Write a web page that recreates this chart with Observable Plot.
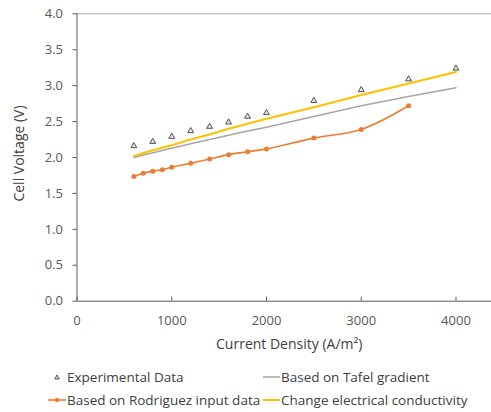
<!DOCTYPE html>
<html>
<head>
<meta charset="utf-8">
<script src="https://cdn.jsdelivr.net/npm/d3@7"></script>
<script src="https://cdn.jsdelivr.net/npm/@observablehq/plot@0.6"></script>
<style>
  html, body { margin: 0; padding: 0; background: #fff; }
  #wrap { position: relative; width: 491px; height: 412px; font-family: "Open Sans", sans-serif; }
  .leg { position: absolute; font-size: 13.5px; color: #404040; white-space: nowrap; line-height: 16px; }
  .leg svg { position: absolute; top: 0; }
</style>
</head>
<body>
<div id="wrap"></div>
<script>
// Experimental data
const expX = [600, 800, 1000, 1200, 1400, 1600, 1800, 2000, 2500, 3000, 3500, 4000];
const expY = [2.16, 2.22, 2.29, 2.37, 2.43, 2.49, 2.57, 2.62, 2.79, 2.94, 3.09, 3.24];
// Based on Tafel gradient
const tafelX = [600, 800, 1000, 1200, 1400, 1600, 1800, 2000, 2500, 3000, 3500, 4000];
const tafelY = [2.00, 2.065, 2.13, 2.19, 2.25, 2.31, 2.37, 2.42, 2.57, 2.72, 2.85, 2.97];
// Change electrical conductivity
const condX = [600, 800, 1000, 1200, 1400, 1600, 1800, 2000, 2500, 3000, 3500, 4000];
const condY = [2.02, 2.10, 2.17, 2.25, 2.32, 2.40, 2.47, 2.54, 2.70, 2.87, 3.03, 3.19];
// Based on Rodriguez input data
const rodX = [600, 700, 800, 900, 1000, 1200, 1400, 1600, 1800, 2000, 2500, 3000, 3500];
const rodY = [1.735, 1.78, 1.81, 1.83, 1.865, 1.92, 1.98, 2.04, 2.08, 2.12, 2.27, 2.39, 2.72];

const xTicks = [0, 1000, 2000, 3000, 4000];
const yTicks = [0, 0.5, 1, 1.5, 2, 2.5, 3, 3.5, 4];
const xTitle = "Current Density (A/m²)";
const yTitle = "Cell Voltage (V)";
const seriesNames = ["Experimental Data", "Based on Tafel gradient", "Based on Rodriguez input data", "Change electrical conductivity"];

const zip = (xs, ys) => xs.map((x, i) => ({x, y: ys[i]}));
const exp = zip(expX, expY), tafel = zip(tafelX, tafelY), cond = zip(condX, condY), rod = zip(rodX, rodY);

const C = {exp: "#404040", tafel: "#A5A5A5", rod: "#ED7D31", cond: "#FFC000"};
const axisColor = "#595959";

const chart = Plot.plot({
  width: 491,
  height: 355,
  marginLeft: 76.5,
  marginRight: 0,
  marginTop: 13.3,
  marginBottom: 54.3,
  style: {fontFamily: "Open Sans", fontSize: "13px", color: axisColor, background: "white"},
  x: {domain: [0, 4375]},
  y: {domain: [0, 4]},
  marks: [
    Plot.ruleY([4], {stroke: "#C8C8C8", strokeWidth: 1.5}),
    Plot.axisY({ticks: yTicks, tickFormat: d3.format(".1f"), tickSize: 4, tickPadding: 10, label: null, stroke: axisColor, fill: axisColor}),
    Plot.axisX({ticks: xTicks, tickFormat: d => String(d), tickSize: 0, tickPadding: 15, label: null, fill: axisColor}),
    Plot.axisX({ticks: xTicks, tickSize: 4, text: null, label: null, dy: -4, stroke: axisColor}),
    Plot.ruleX([0], {stroke: axisColor, strokeWidth: 1}),
    Plot.ruleY([0], {stroke: axisColor, strokeWidth: 1}),
    Plot.line(tafel, {x: "x", y: "y", stroke: C.tafel, strokeWidth: 1.5}),
    Plot.line(cond, {x: "x", y: "y", stroke: C.cond, strokeWidth: 2}),
    Plot.line(rod, {x: "x", y: "y", stroke: C.rod, strokeWidth: 1.6, curve: "catmull-rom"}),
    Plot.dot(rod, {x: "x", y: "y", fill: C.rod, r: 2.5}),
    Plot.dot(exp, {x: "x", y: "y", symbol: "triangle", r: 2.2, stroke: C.exp, fill: "#e6e6e6", strokeWidth: 0.9}),
    Plot.text([xTitle], {frameAnchor: "bottom", textAnchor: "middle", lineAnchor: "middle", dx: 5, dy: 43, fill: "#404040", fontSize: 14}),
    Plot.text([yTitle], {frameAnchor: "left", textAnchor: "middle", lineAnchor: "middle", dx: -57, dy: -4, rotate: -90, fill: "#404040", fontSize: 14})
  ]
});
chart.style.position = "absolute";
chart.style.left = "0px";
chart.style.top = "0px";
const wrap = document.getElementById("wrap");
wrap.appendChild(chart);

// Legend (HTML below the chart)
function legendItem(left, top, symbolSvg, symW, label) {
  const d = document.createElement("div");
  d.className = "leg";
  d.style.left = left + "px";
  d.style.top = top + "px";
  d.style.paddingLeft = symW + "px";
  d.innerHTML = `<svg width="${symW}" height="16" style="left:0">${symbolSvg}</svg>` + label;
  wrap.appendChild(d);
}
legendItem(49, 369, `<path d="M8,6 L10.2,10 L5.8,10 Z" fill="#e6e6e6" stroke="${C.exp}" stroke-width="0.9"/>`, 18, seriesNames[0]);
legendItem(263, 369, `<line x1="0" x2="17" y1="8" y2="8" stroke="${C.tafel}" stroke-width="1.5"/>`, 18, seriesNames[1]);
legendItem(48, 392, `<line x1="0" x2="18" y1="8" y2="8" stroke="${C.rod}" stroke-width="1.6"/><circle cx="9" cy="8" r="2.2" fill="${C.rod}"/>`, 19, seriesNames[2]);
legendItem(263, 392, `<line x1="0" x2="17" y1="8" y2="8" stroke="${C.cond}" stroke-width="2"/>`, 18, seriesNames[3]);
</script>
</body>
</html>
